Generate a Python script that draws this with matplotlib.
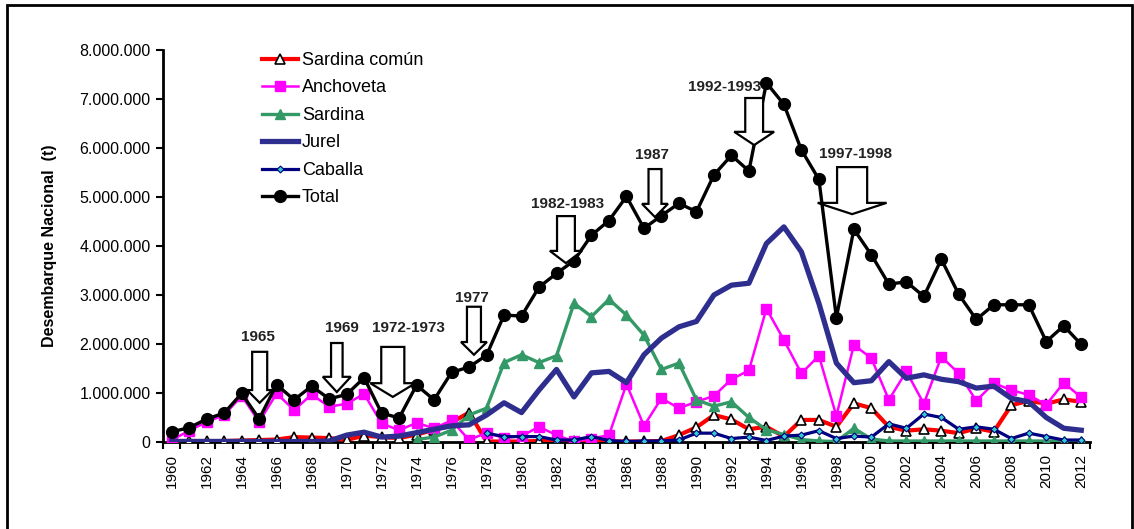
import numpy as np
import matplotlib
matplotlib.use("Agg")
import matplotlib.pyplot as plt
from matplotlib.patches import Polygon, Rectangle
from matplotlib.ticker import FuncFormatter, MultipleLocator

plt.rcParams['font.family'] = ['Liberation Sans', 'DejaVu Sans']

years = list(range(1960, 2013))
nan = np.nan

total = [0.21, 0.29, 0.47, 0.59, 0.99, 0.47, 1.17, 0.86, 1.14, 0.88, 0.97, 1.31, 0.59, 0.49,
         1.16, 0.86, 1.42, 1.53, 1.77, 2.59, 2.57, 3.16, 3.44, 3.70, 4.22, 4.52, 5.01, 4.36,
         4.62, 4.87, 4.70, 5.45, 5.85, 5.53, 7.33, 6.89, 5.96, 5.36, 2.54, 4.34, 3.82, 3.22,
         3.27, 2.97, 3.73, 3.01, 2.50, 2.80, 2.80, 2.80, 2.05, 2.37, 1.99]
anchoveta = [0.04, 0.23, 0.41, 0.55, 0.94, 0.41, 0.99, 0.65, 0.97, 0.72, 0.78, 0.98, 0.38, 0.24,
             0.39, 0.28, 0.44, 0.04, 0.19, 0.08, 0.12, 0.31, 0.14, 0.01, 0.07, 0.14, 1.18, 0.33,
             0.89, 0.69, 0.82, 0.94, 1.28, 1.46, 2.72, 2.08, 1.40, 1.76, 0.53, 1.98, 1.71, 0.86,
             1.44, 0.78, 1.74, 1.40, 0.84, 1.20, 1.06, 0.96, 0.76, 1.21, 0.91]
sardina_comun = [0.02, 0.02, 0.02, 0.02, 0.03, 0.04, 0.05, 0.10, 0.09, 0.08, 0.04, 0.13, 0.10, 0.08,
                 0.15, 0.25, 0.40, 0.60, 0.01, 0.01, 0.01, 0.02, 0.01, 0.01, 0.01, 0.01, 0.01, 0.01,
                 0.02, 0.14, 0.30, 0.55, 0.46, 0.26, 0.31, 0.11, 0.45, 0.45, 0.31, 0.79, 0.69, 0.31,
                 0.23, 0.26, 0.23, 0.18, 0.28, 0.21, 0.75, 0.84, 0.78, 0.87, 0.82]
sardina = [nan, nan, nan, nan, nan, nan, nan, nan, nan, nan, nan, nan, nan, nan,
           0.05, 0.10, 0.24, 0.55, 0.69, 1.62, 1.78, 1.62, 1.76, 2.83, 2.56, 2.91, 2.59, 2.18,
           1.48, 1.61, 0.86, 0.73, 0.82, 0.50, 0.25, 0.15, 0.05, 0.02, 0.01, 0.28, 0.06, 0.02,
           0.02, 0.02, 0.02, 0.02, 0.02, 0.02, 0.02, 0.02, 0.02, 0.02, 0.01]
jurel = [0.01, 0.01, 0.01, 0.01, 0.01, 0.01, 0.01, 0.01, 0.01, 0.02, 0.14, 0.20, 0.10, 0.12,
         0.19, 0.26, 0.33, 0.35, 0.55, 0.80, 0.60, 1.06, 1.48, 0.92, 1.41, 1.44, 1.21, 1.78,
         2.12, 2.35, 2.46, 3.00, 3.20, 3.24, 4.05, 4.39, 3.88, 2.83, 1.61, 1.21, 1.25, 1.64,
         1.30, 1.37, 1.28, 1.23, 1.10, 1.14, 0.89, 0.82, 0.50, 0.28, 0.24]
caballa = [nan, nan, nan, nan, nan, nan, nan, nan, nan, nan, nan, nan, nan, nan,
           nan, nan, nan, nan, 0.18, 0.11, 0.11, 0.11, 0.04, 0.04, 0.11, 0.03, 0.01, 0.02,
           0.02, 0.04, 0.18, 0.18, 0.07, 0.10, 0.03, 0.12, 0.14, 0.23, 0.07, 0.12, 0.10, 0.37,
           0.28, 0.57, 0.50, 0.26, 0.31, 0.26, 0.07, 0.18, 0.11, 0.04, 0.04]

events = ["1965", "1969", "1972-1973", "1977", "1982-1983", "1987", "1992-1993", "1997-1998"]

SCALE = 1e6
fig = plt.figure(figsize=(11.34, 5.29), dpi=100)
ax = fig.add_axes([0.1437, 0.1645, 0.9612 - 0.1437, 0.9055 - 0.1645])

x = np.array(years, dtype=float)
def arr(v):
    return np.array(v, dtype=float) * SCALE

ax.plot(x, arr(sardina_comun), color='#FF0000', lw=3.0, marker='^', ms=7,
        mfc='white', mec='black', mew=1.2, label='Sardina común', zorder=3)
ax.plot(x, arr(anchoveta), color='#FF00FF', lw=1.8, marker='s', ms=7,
        mfc='#FF00FF', mec='#FF00FF', label='Anchoveta', zorder=4)
ax.plot(x, arr(sardina), color='#339966', lw=2.4, marker='^', ms=7.5,
        mfc='#339966', mec='#339966', label='Sardina', zorder=5)
ax.plot(x, arr(jurel), color='#2E2E8F', lw=3.8, label='Jurel', zorder=6)
ax.plot(x, arr(caballa), color='#000080', lw=2.3, marker='D', ms=3.5,
        mfc='#33CCCC', mec='#000080', mew=0.8, label='Caballa', zorder=7)
ax.plot(x, arr(total), color='black', lw=2.4, marker='o', ms=8.5,
        mfc='black', mec='black', label='Total', zorder=8)

ax.set_xlim(1959.5, 2012.5)
ax.set_ylim(0, 8e6)
ax.yaxis.set_major_locator(MultipleLocator(1e6))
ax.yaxis.set_major_formatter(FuncFormatter(lambda v, p: f"{int(round(v)):,}".replace(",", ".")))
ax.set_xticks(x[::2])
ax.set_xticklabels([str(y) for y in years[::2]], rotation=90)
ax.set_xticks(np.arange(1959.5, 2013.0, 1.0), minor=True)
ax.tick_params(axis='x', which='major', length=0, labelsize=11, pad=9)
ax.tick_params(axis='x', which='minor', length=5, width=1.5, direction='out')
ax.tick_params(axis='y', which='major', length=5, width=1.5, direction='out', labelsize=11.5, pad=4)
for s in ['top', 'right']:
    ax.spines[s].set_visible(False)
for s in ['left', 'bottom']:
    ax.spines[s].set_linewidth(2)
ax.set_ylabel('Desembarque Nacional  (t)', fontsize=11.5, fontweight='bold', labelpad=16)

# hollow block arrows (tip_x, tip_y, head_base_y, top_y, shaft_half, head_half) in years / millions
arrow_geom = [
    (1965.03, 0.80, 1.06, 1.84, 0.43, 0.72),
    (1969.44, 1.02, 1.33, 2.02, 0.33, 0.80),
    (1972.64, 0.92, 1.20, 1.94, 0.66, 1.29),
    (1977.28, 1.78, 2.04, 2.76, 0.40, 0.74),
    (1982.54, 3.65, 3.90, 4.61, 0.51, 0.92),
    (1987.63, 4.59, 4.86, 5.57, 0.37, 0.74),
    (1993.30, 6.06, 6.33, 7.02, 0.51, 1.14),
    (1998.90, 4.65, 4.88, 5.61, 0.86, 1.97),
]
label_pos = [(1964.92, 2.14), (1969.73, 2.33), (1973.56, 2.33), (1977.16, 2.94),
             (1982.65, 4.86), (1987.46, 5.86), (1991.58, 7.24), (1999.07, 5.88)]
for (tx, ty, hb, top, sh, hh), lab, (lx, ly) in zip(arrow_geom, events, label_pos):
    pts = [(tx - sh, top), (tx + sh, top), (tx + sh, hb), (tx + hh, hb), (tx, ty),
           (tx - hh, hb), (tx - sh, hb)]
    pts = [(px, py * SCALE) for px, py in pts]
    ax.add_patch(Polygon(pts, closed=True, facecolor='white', edgecolor='black',
                         lw=1.6, zorder=10))
    ax.text(lx, ly * SCALE, lab, ha='center', va='center', fontsize=11,
            fontweight='bold', color='#222222', zorder=11)

leg = ax.legend(loc='upper left', bbox_to_anchor=(262 / 1134, 1 - 52 / 529),
                bbox_transform=fig.transFigure, frameon=False, fontsize=13,
                handlelength=2.0, handletextpad=0.2, labelspacing=0.58,
                borderpad=0, borderaxespad=0)

fig.add_artist(Rectangle((7 / 1134, -0.02), (1132 - 7) / 1134, 1.02 - 5 / 529,
                         transform=fig.transFigure, fill=False, edgecolor='black', lw=2))

fig.savefig('out.png', dpi=100)
